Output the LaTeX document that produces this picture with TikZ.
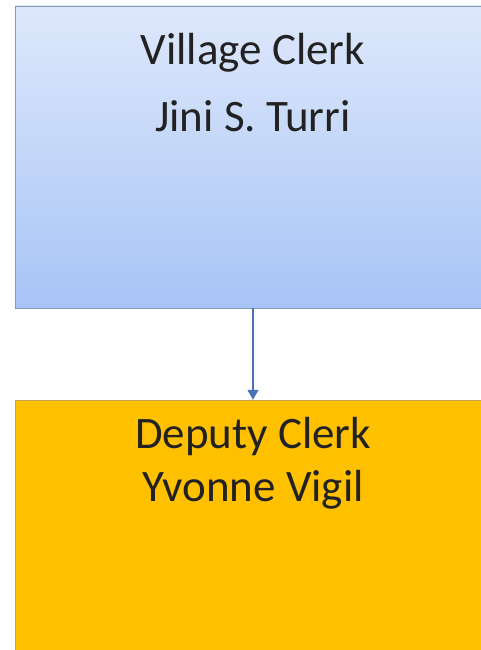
\documentclass[tikz,border=0pt]{standalone}
\usepackage{fontspec}
\setmainfont{Carlito}
\usepackage{xcolor}
\usepackage{tikz}
\usetikzlibrary{positioning,arrows.meta}
\definecolor{ink}{HTML}{222222}
\definecolor{skytop}{HTML}{DEE8FB}
\definecolor{skybot}{HTML}{A7C4F6}
\definecolor{skyline}{HTML}{8C98B0}
\definecolor{gold}{HTML}{FFC000}
\definecolor{goldline}{HTML}{C9A34A}
\definecolor{linkblue}{HTML}{4A72B8}
\begin{document}
\begin{tikzpicture}[x=1pt,y=-1pt,every node/.style={text=ink},
  orgbox/.style={rectangle,minimum width=476pt,inner sep=0pt},
  namelbl/.style={anchor=north,align=center,inner sep=0pt,font=\fontsize{45}{67}\selectfont},
  link/.style={linkblue,line width=1.4pt,-{Triangle[width=11pt,length=10pt]}}]
  \useasboundingbox (0,0) rectangle (480,650);
  \node[orgbox,minimum height=302pt,draw=skyline,top color=skytop,bottom color=skybot,
    label={[namelbl,yshift=-27pt]north:Village Clerk\\Jini S. Turri}] (clerk) at (253,157) {};
  \node[orgbox,minimum height=260pt,draw=goldline,fill=gold,
    label={[namelbl,yshift=-17pt,font=\fontsize{45}{53}\selectfont]north:Deputy Clerk\\Yvonne Vigil}] (deputy) at (253,530) {};
  \draw[link] (clerk) -- (deputy);
\end{tikzpicture}
\end{document}
